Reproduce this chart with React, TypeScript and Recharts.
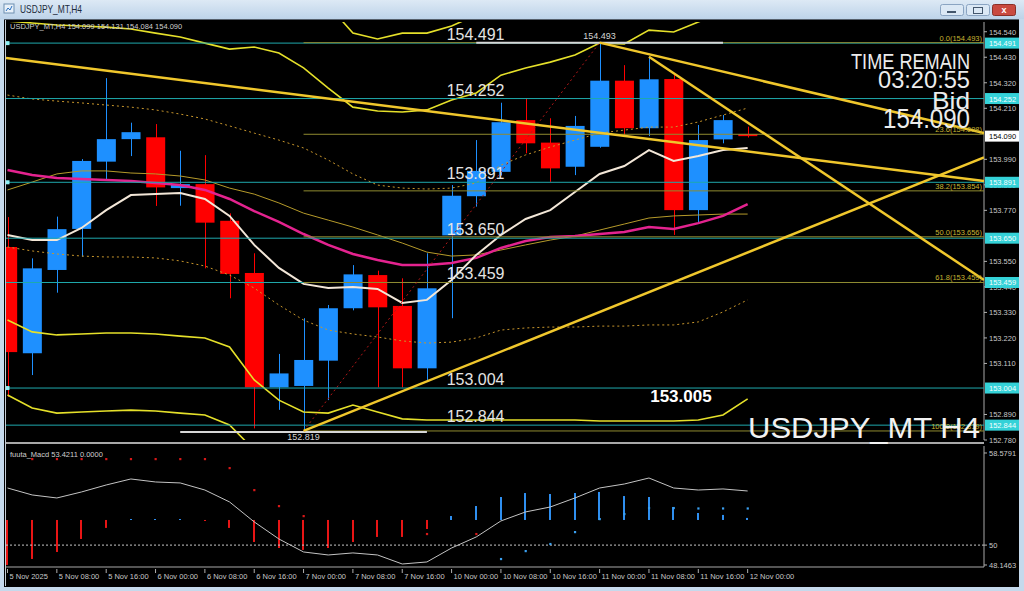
import React from 'react';
import { ComposedChart, Bar, Line, XAxis, YAxis, ReferenceLine, ReferenceDot } from 'recharts';

const FONT = '"Liberation Sans", Arial, sans-serif';

// H4 bars, 5 Nov 00:00 .. 12 Nov 00:00
const times = [
  '5 Nov 00:00', '5 Nov 04:00', '5 Nov 08:00', '5 Nov 12:00', '5 Nov 16:00', '5 Nov 20:00',
  '6 Nov 00:00', '6 Nov 04:00', '6 Nov 08:00', '6 Nov 12:00', '6 Nov 16:00', '6 Nov 20:00',
  '7 Nov 00:00', '7 Nov 04:00', '7 Nov 08:00', '7 Nov 12:00', '7 Nov 16:00', '7 Nov 20:00',
  '10 Nov 00:00', '10 Nov 04:00', '10 Nov 08:00', '10 Nov 12:00', '10 Nov 16:00', '10 Nov 20:00',
  '11 Nov 00:00', '11 Nov 04:00', '11 Nov 08:00', '11 Nov 12:00', '11 Nov 16:00', '11 Nov 20:00',
  '12 Nov 00:00',
];
const timeTickBars = [0, 2, 4, 6, 8, 10, 12, 14, 16, 18, 20, 22, 24, 26, 28, 30];
const timeTickLabels = [
  '5 Nov 2025', '5 Nov 08:00', '5 Nov 16:00', '6 Nov 00:00', '6 Nov 08:00', '6 Nov 16:00',
  '7 Nov 00:00', '7 Nov 08:00', '7 Nov 16:00', '10 Nov 00:00', '10 Nov 08:00', '10 Nov 16:00',
  '11 Nov 00:00', '11 Nov 08:00', '11 Nov 16:00', '12 Nov 00:00',
];

const open = [153.612, 153.154, 153.513, 153.69, 153.98, 154.077, 154.085, 153.866, 153.883, 153.725,
  153.5, 153.007, 153.013, 153.122, 153.348, 153.491, 153.358, 153.089, 153.662, 153.831,
  153.936, 154.159, 154.062, 153.958, 154.044, 154.329, 154.124, 154.336, 153.771, 154.076, 154.099];
const high = [153.741, 153.563, 153.743, 153.991, 154.34, 154.148, 154.142, 154.027, 154.008, 153.757,
  153.585, 153.151, 153.305, 153.362, 153.534, 153.51, 153.477, 153.585, 153.879, 154.073,
  154.234, 154.253, 154.167, 154.177, 154.493, 154.396, 154.432, 154.361, 154.138, 154.181, 154.131];
const low = [152.966, 153.06, 153.415, 153.57, 153.901, 154.004, 153.789, 153.79, 153.52, 153.391,
  152.83, 152.91, 152.819, 152.952, 153.339, 153.007, 153.007, 153.039, 153.305, 153.786,
  153.92, 154.016, 153.893, 153.922, 154.04, 154.09, 154.09, 153.664, 153.714, 154.059, 154.084];
const close = [153.159, 153.52, 153.689, 153.983, 154.077, 154.107, 153.869, 153.883, 153.717, 153.496,
  153.007, 153.067, 153.125, 153.348, 153.494, 153.352, 153.089, 153.434, 153.833, 153.94,
  154.15, 154.059, 153.951, 154.134, 154.329, 154.124, 154.335, 153.771, 154.073, 154.159, 154.09];

const maFast = [153.664, 153.642, 153.642, 153.694, 153.771, 153.836, 153.84, 153.845, 153.819, 153.746,
  153.621, 153.522, 153.453, 153.435, 153.44, 153.431, 153.371, 153.384, 153.47, 153.578,
  153.664, 153.733, 153.771, 153.849, 153.927, 153.961, 154.03, 153.983, 154.004, 154.03, 154.039];
const maSlow = [153.944, 153.922, 153.909, 153.905, 153.901, 153.897, 153.888, 153.879, 153.858, 153.819,
  153.767, 153.72, 153.668, 153.621, 153.582, 153.556, 153.534, 153.534, 153.543, 153.565,
  153.608, 153.638, 153.655, 153.659, 153.668, 153.677, 153.698, 153.69, 153.715, 153.746, 153.797];
const maMid = [153.858, 153.892, 153.927, 153.94, 153.94, 153.931, 153.927, 153.918, 153.901, 153.866,
  153.84, 153.802, 153.758, 153.728, 153.698, 153.664, 153.629, 153.59, 153.573, 153.578,
  153.599, 153.621, 153.642, 153.659, 153.685, 153.711, 153.737, 153.746, 153.75, 153.754, 153.754];
const envUpper = [154.267, 154.25, 154.241, 154.233, 154.224, 154.215, 154.203, 154.185, 154.164, 154.134,
  154.103, 154.073, 154.039, 153.987, 153.927, 153.879, 153.866, 153.862, 153.866, 153.888,
  153.965, 154.009, 154.043, 154.073, 154.103, 154.116, 154.129, 154.129, 154.151, 154.181, 154.211];
const envLower = [153.612, 153.595, 153.582, 153.573, 153.569, 153.569, 153.565, 153.552, 153.53, 153.491,
  153.435, 153.362, 153.297, 153.254, 153.237, 153.224, 153.207, 153.198, 153.202, 153.22,
  153.254, 153.263, 153.267, 153.267, 153.271, 153.271, 153.276, 153.276, 153.289, 153.332, 153.384];
const bandUpper = [154.586, 154.578, 154.569, 154.565, 154.56, 154.552, 154.534, 154.517, 154.491, 154.465,
  154.474, 154.448, 154.384, 154.297, 154.215, 154.198, 154.194, 154.203, 154.246, 154.276,
  154.353, 154.384, 154.409, 154.44, 154.491, 154.487, 154.547, 154.539, 154.582, 154.625, 154.655];
const bandUpper2 = [null, null, null, null, null, null, null, null, null, null,
  null, null, 154.677, 154.655, 154.534, 154.509, 154.534, 154.534, 154.565, 154.612,
  154.677, null, null, null, null, null, null, null, null, null, null];
const bandLower = [153.297, 153.246, 153.233, 153.237, 153.241, 153.241, 153.237, 153.228, 153.22, 153.181,
  153.039, 152.952, 152.901, 152.896, 152.931, 152.901, 152.871, 152.866, 152.866, 152.866,
  152.866, 152.866, 152.866, 152.866, 152.862, 152.862, 152.862, 152.862, 152.866, 152.888, 152.957];
const bandLower2 = [152.974, 152.918, 152.896, 152.901, 152.905, 152.909, 152.905, 152.896, 152.888, 152.845,
  152.737, 152.607, null, null, null, null, null, null, null, null,
  null, null, null, null, null, null, null, null, null, null, null];

const lineLevels = [154.491, 154.252, 153.891, 153.65, 153.459, 153.004, 152.844];
const handleLevels = [154.491, 153.891, 153.004];
const fibLevels = [
  { name: '0.0', price: 154.493 },
  { name: '23.6', price: 154.098 },
  { name: '38.2', price: 153.854 },
  { name: '50.0', price: 153.656 },
  { name: '61.8', price: 153.459 },
  { name: '100.0', price: 152.819 },
];
const trendLines = [
  { x1: -0.061, y1: 154.427, x2: 39.58, y2: 153.896 },
  { x1: 24, y1: 154.493, x2: 39.58, y2: 154.103 },
  { x1: 26, y1: 154.432, x2: 39.58, y2: 153.47 },
  { x1: 12, y1: 152.819, x2: 39.58, y2: 153.998 },
];
const fibBase = { x1: 12, y1: 152.819, x2: 24, y2: 154.493 };
const highMark = { x1: 19, x2: 29, y: 154.493 };
const lowMark = { x1: 7, x2: 17, y: 152.815 };
const bidPrice = 154.09;
// scale steps that are not hidden under a level or bid box
const priceTicks = [154.54, 154.43, 154.32, 154.21, 153.99, 153.88, 153.77, 153.55,
  153.44, 153.33, 153.22, 153.11, 152.89, 152.78];

const macdSignal = [55.32, 54.67, 54.39, 54.95, 55.6, 56.16, 55.88, 55.79, 55.13, 54.02,
  52.16, 50.57, 49.36, 49.08, 49.27, 49.08, 48.24, 48.43, 49.73, 50.76,
  52.25, 53.09, 53.55, 54.39, 55.32, 55.69, 56.25, 55.32, 55.13, 55.23, 55.04];
const macdHist = [48.15, 48.71, 49.36, 50.57, 51.6, 52.43, 52.43, 52.43, 52.25, 51.6,
  50.29, 49.73, 49.55, 49.73, 50.29, 50.76, 50.76, 51.5, 52.71, 53.64,
  54.48, 54.85, 54.76, 54.85, 54.95, 54.57, 54.48, 53.55, 52.99, 52.81, 52.53];
const HIST_BASE = 52.34;
const dotRed = [null, 58.02, 58.02, 58.02, 58.02, 58.02, 58.02, 58.02, 58.02, 57.18,
  55.13, 53.64, 52.71, null, null, null, null, 51.04, null, 51.04,
  null, null, null, null, null, null, null, null, null, null, null];
const dotBlue = [null, null, null, null, null, null, null, null, null, null,
  null, null, null, null, null, null, null, null, null, null,
  48.71, 49.45, 50.11, 51.22, 52.43, 52.9, 53.46, 53.46, 53.42, 53.42, 53.42];
const macdTicks = [58.5791, 50, 48.1463];

const rows = times.map((t, i) => ({
  i, t, o: open[i], h: high[i], l: low[i], c: close[i],
  fast: maFast[i], slow: maSlow[i], mid: maMid[i], envUp: envUpper[i], envLo: envLower[i],
  bUp: bandUpper[i], bUp2: bandUpper2[i], bLo: bandLower[i], bLo2: bandLower2[i],
}));
const subRows = times.map((t, i) => ({
  i, t, sig: macdSignal[i], hist: macdHist[i], red: dotRed[i], blue: dotBlue[i],
}));

const X_DOMAIN: [number, number] = [-0.061, 39.58];

const Candle = (p: any) => {
  const { x, y, width, height, payload } = p;
  if (x == null || y == null) return <g />;
  const top = Math.min(y, y + height);
  const hh = Math.abs(height);
  const { o, h, l, c } = payload;
  const up = c >= o;
  const col = up ? '#1e90ff' : '#ff0000';
  const k = hh / (h - l || 1);
  const bTop = top + (h - Math.max(o, c)) * k;
  const bBot = top + (h - Math.min(o, c)) * k;
  const cx = Math.round(x + width / 2) + 0.5;
  return (
    <g>
      <line x1={cx} x2={cx} y1={top} y2={top + hh} stroke={col} strokeWidth={1} />
      <rect x={x} y={bTop} width={width} height={Math.max(1, bBot - bTop)} fill={col} />
    </g>
  );
};

const HistBar = (p: any) => {
  const { x, y, width, height, payload } = p;
  if (x == null || y == null) return <g />;
  const top = Math.min(y, y + height);
  const col = payload.hist >= HIST_BASE ? '#2f8ff0' : '#e81515';
  return <rect x={Math.round(x + width / 2) - 1} y={top} width={2} height={Math.max(1, Math.abs(height))} fill={col} />;
};

const sq = (col: string) => (p: any) => {
  if (p.value == null || p.cy == null || isNaN(p.cy)) return <g key={`d-${p.index}`} />;
  return <rect key={`d-${p.index}`} x={p.cx - 1} y={p.cy - 1} width={2.2} height={2.2} fill={col} />;
};

const PriceTick = (p: any) => {
  const { x, y, payload } = p;
  const v = payload.value;
  if (lineLevels.includes(v)) {
    return (
      <g>
        <rect x={x + 1} y={y - 5.5} width={34} height={11} fill="#34d2d8" />
        <text x={x + 5} y={y + 3} fontSize={7.5} fill="#f4ffff" fontFamily={FONT}>{v.toFixed(3)}</text>
      </g>
    );
  }
  if (v === bidPrice) {
    return (
      <g>
        <rect x={x + 1} y={y - 5.5} width={34} height={11} fill="#ffffff" />
        <text x={x + 5} y={y + 3} fontSize={7.5} fill="#000" fontFamily={FONT}>{v.toFixed(3)}</text>
      </g>
    );
  }
  return (
    <g>
      <line x1={x} x2={x + 3} y1={y} y2={y} stroke="#b0b0b0" />
      <text x={x + 5} y={y + 3} fontSize={7.5} fill="#c8c8c8" fontFamily={FONT}>{v.toFixed(3)}</text>
    </g>
  );
};

const MacdTick = (p: any) => {
  const { x, y, payload } = p;
  return (
    <g>
      <line x1={x} x2={x + 3} y1={y} y2={y} stroke="#b0b0b0" />
      <text x={x + 5} y={y + 3} fontSize={7.5} fill="#c8c8c8" fontFamily={FONT}>{String(payload.value)}</text>
    </g>
  );
};

const TimeTick = (p: any) => {
  const { x, y, payload } = p;
  const idx = timeTickBars.indexOf(payload.value);
  return (
    <g>
      <line x1={x} x2={x} y1={y + 2} y2={y + 6} stroke="#b0b0b0" />
      <text x={x + 2} y={y + 12} fontSize={7.5} fill="#c8c8c8" fontFamily={FONT}>{timeTickLabels[idx]}</text>
    </g>
  );
};

const labelDot = (key: string, x: number, y: number, text: string, o: any = {}) => (
  <ReferenceDot
    key={key}
    x={x}
    y={y}
    r={0}
    ifOverflow="visible"
    zIndex={2000}
    shape={(p: any) => (
      <text
        x={p.cx + (o.dx ?? 0)}
        y={p.cy + (o.dy ?? 0)}
        fill={o.color ?? '#e4e4e4'}
        fontSize={o.size ?? 16}
        fontWeight={o.weight ?? 'normal'}
        textAnchor={o.anchor ?? 'start'}
        fontFamily={FONT}
      >
        {text}
      </text>
    )}
  />
);

export default function App() {
  return (
    <div style={{ position: 'fixed', left: 0, top: 0, width: 1024, height: 591, background: '#c5d9ec', overflow: 'hidden', fontFamily: FONT }}>
      <div style={{ position: 'absolute', left: 0, top: 0, width: 1024, height: 19, background: 'linear-gradient(#dde9f5, #bdd3e9)' }} />
      <div style={{ position: 'absolute', left: 4, top: 19, width: 1015, height: 567, background: '#000', borderTop: '1px solid #56606c' }} />
      <div style={{ position: 'absolute', left: 5, top: 20, width: 1, height: 566, background: '#c4ccd4' }} />

      <div style={{ position: 'absolute', left: 6, top: 22 }}>
        <ComposedChart width={1013} height={421} data={rows} margin={{ top: 0, right: 0, bottom: 3, left: 0 }}>
          <XAxis dataKey="i" type="number" domain={X_DOMAIN} allowDataOverflow hide />
          <YAxis
            orientation="right"
            width={35}
            domain={[152.78, 154.582]}
            allowDataOverflow
            ticks={[...priceTicks, bidPrice, ...lineLevels]}
            interval={0}
            tickSize={0}
            tickMargin={0}
            tickLine={false}
            axisLine={{ stroke: '#a8a8a8' }}
            tick={<PriceTick />}
          />
          <Bar dataKey={(d: any) => [d.l, d.h]} barSize={19} shape={<Candle />} isAnimationActive={false} />
          <Line dataKey="bUp" stroke="#e5e02a" strokeWidth={1.6} dot={false} activeDot={false} isAnimationActive={false} />
          <Line dataKey="bUp2" stroke="#e5e02a" strokeWidth={1.6} dot={false} activeDot={false} isAnimationActive={false} />
          <Line dataKey="bLo" stroke="#e5e02a" strokeWidth={1.6} dot={false} activeDot={false} isAnimationActive={false} />
          <Line dataKey="bLo2" stroke="#e5e02a" strokeWidth={1.6} dot={false} activeDot={false} isAnimationActive={false} />
          <Line dataKey="envUp" stroke="#c8962c" strokeWidth={1} strokeDasharray="2 3" dot={false} activeDot={false} isAnimationActive={false} />
          <Line dataKey="envLo" stroke="#c8962c" strokeWidth={1} strokeDasharray="2 3" dot={false} activeDot={false} isAnimationActive={false} />
          <Line dataKey="mid" stroke="#b59a2a" strokeWidth={1} dot={false} activeDot={false} isAnimationActive={false} />
          <Line dataKey="slow" stroke="#e4238f" strokeWidth={2.5} dot={false} activeDot={false} isAnimationActive={false} />
          <Line dataKey="fast" stroke="#f3e7d8" strokeWidth={2} dot={false} activeDot={false} isAnimationActive={false} />

          {lineLevels.map((v) => (
            <ReferenceLine key={`h-${v}`} y={v} stroke="#1fa9ad" strokeWidth={1} ifOverflow="hidden" zIndex={1500} />
          ))}
          {fibLevels.map((f) => (
            <ReferenceLine
              key={`f-${f.name}`}
              segment={[{ x: 12, y: f.price }, { x: X_DOMAIN[1], y: f.price }]}
              stroke="#8f8a30"
              strokeWidth={1}
              ifOverflow="hidden"
              zIndex={1510}
            />
          ))}
          <ReferenceLine
            segment={[{ x: fibBase.x1, y: fibBase.y1 }, { x: fibBase.x2, y: fibBase.y2 }]}
            stroke="#b01818"
            strokeDasharray="2 3"
            strokeWidth={1}
            ifOverflow="hidden"
            zIndex={1520}
          />
          <ReferenceLine
            segment={[{ x: highMark.x1, y: highMark.y }, { x: highMark.x2, y: highMark.y }]}
            stroke="#d6d6d6"
            strokeWidth={2}
            ifOverflow="hidden"
            zIndex={1530}
          />
          <ReferenceLine
            segment={[{ x: lowMark.x1, y: lowMark.y }, { x: lowMark.x2, y: lowMark.y }]}
            stroke="#d6d6d6"
            strokeWidth={2}
            ifOverflow="hidden"
            zIndex={1530}
          />
          {trendLines.map((t, k) => (
            <ReferenceLine
              key={`t-${k}`}
              segment={[{ x: t.x1, y: t.y1 }, { x: t.x2, y: t.y2 }]}
              stroke="#f0c72c"
              strokeWidth={2.5}
              ifOverflow="hidden"
              zIndex={1540}
            />
          ))}
          {handleLevels.map((v) => (
            <ReferenceDot
              key={`hd-${v}`}
              x={0}
              y={v}
              r={2}
              ifOverflow="visible"
              zIndex={1600}
              shape={(p: any) => <rect x={p.cx - 2} y={p.cy - 2} width={4} height={4} fill="#8ff0f4" />}
            />
          ))}
          {lineLevels.map((v) => labelDot(`lb-${v}`, 17.8, v, v.toFixed(3), { dy: -3, size: 16 }))}
          {fibLevels.map((f) =>
            labelDot(`fl-${f.name}`, 39.5, f.price, `${f.name}(${f.price.toFixed(3)})`, { dy: -2, size: 7.5, anchor: 'end', color: '#c8b432' })
          )}
          {labelDot('peak', 24, 154.493, '154.493', { dy: -4, size: 9, anchor: 'middle', color: '#d4d4d4' })}
          {labelDot('trough', 12, 152.819, '152.819', { dy: 9, size: 9, anchor: 'middle', color: '#d4d4d4' })}
          {labelDot('lvl', 26.05, 153.004, '153.005', { dy: 14, size: 17, weight: 'bold', color: '#ffffff' })}
        </ComposedChart>
      </div>

      <div style={{ position: 'absolute', left: 6, top: 442, width: 978, height: 2, background: '#a8a8a8' }} />

      <div style={{ position: 'absolute', left: 6, top: 446 }}>
        <ComposedChart width={1013} height={140} data={subRows} margin={{ top: 0, right: 0, bottom: 0, left: 0 }}>
          <XAxis
            dataKey="i"
            type="number"
            domain={X_DOMAIN}
            allowDataOverflow
            ticks={timeTickBars}
            interval={0}
            height={19}
            tickSize={0}
            tickMargin={0}
            tickLine={false}
            axisLine={{ stroke: '#a8a8a8' }}
            tick={<TimeTick />}
          />
          <YAxis
            orientation="right"
            width={35}
            domain={[47.96, 59.231]}
            allowDataOverflow
            ticks={macdTicks}
            interval={0}
            tickSize={0}
            tickMargin={0}
            tickLine={false}
            axisLine={{ stroke: '#a8a8a8' }}
            tick={<MacdTick />}
          />
          <ReferenceLine y={50} stroke="#c8c8c8" strokeDasharray="2 2" strokeWidth={1} />
          <Bar
            dataKey={(d: any) => [Math.min(HIST_BASE, d.hist), Math.max(HIST_BASE, d.hist)]}
            barSize={2}
            shape={<HistBar />}
            isAnimationActive={false}
          />
          <Line dataKey="sig" stroke="#c4c4c4" strokeWidth={1} dot={false} activeDot={false} isAnimationActive={false} />
          <Line dataKey="red" stroke="none" dot={sq('#d81818')} activeDot={false} isAnimationActive={false} />
          <Line dataKey="blue" stroke="none" dot={sq('#3aa0f0')} activeDot={false} isAnimationActive={false} />
        </ComposedChart>
      </div>

      <svg width={1024} height={591} style={{ position: 'absolute', left: 0, top: 0, pointerEvents: 'none' }}>
        <rect x={4} y={4} width={10} height={9} fill="#e8f1fa" stroke="#6f8fb0" strokeWidth={1} />
        <polyline points="6,11 8,8 10,10 12,6" fill="none" stroke="#2a70c0" strokeWidth={1} />
        <text x={20} y={13} fontSize={11} fill="#1c2b3c" fontFamily={FONT} textLength={62} lengthAdjust="spacingAndGlyphs">USDJPY_MT,H4</text>
        <rect x={940.5} y={4.5} width={23} height={11} rx={2} fill="#dbe8f5" stroke="#8aa4c2" />
        <rect x={947} y={11} width={9} height={2} fill="#43566c" />
        <rect x={966.5} y={4.5} width={23} height={11} rx={2} fill="#dbe8f5" stroke="#8aa4c2" />
        <rect x={973.5} y={7.5} width={9} height={6} fill="none" stroke="#43566c" />
        <rect x={992.5} y={4.5} width={23} height={11} rx={2} fill="#c94a40" stroke="#8a3028" />
        <text x={1004} y={13} fontSize={9} fill="#ffffff" fontWeight="bold" textAnchor="middle" fontFamily={FONT}>x</text>

        <text x={10} y={29} fontSize={7.5} fill="#cfcfcf" fontFamily={FONT}>USDJPY_MT,H4  154.099 154.131 154.084 154.090</text>
        <text x={10} y={457} fontSize={7.5} fill="#cfcfcf" fontFamily={FONT}>fuuta_Macd 53.4211   0.0000</text>

        <text x={970} y={69} fontSize={22} fill="#ececec" textAnchor="end" fontFamily={FONT} textLength={119} lengthAdjust="spacingAndGlyphs">TIME REMAIN</text>
        <text x={970} y={88} fontSize={23} fill="#ececec" textAnchor="end" fontFamily={FONT} textLength={92} lengthAdjust="spacingAndGlyphs">03:20:55</text>
        <text x={970} y={109} fontSize={24} fill="#ececec" textAnchor="end" fontFamily={FONT} textLength={38} lengthAdjust="spacingAndGlyphs">Bid</text>
        <text x={970} y={128} fontSize={27} fill="#ececec" textAnchor="end" fontFamily={FONT} textLength={87} lengthAdjust="spacingAndGlyphs">154.090</text>
        <text x={748} y={438} fontSize={30} fill="#f2f2f2" fontFamily={FONT} textLength={232} lengthAdjust="spacingAndGlyphs">USDJPY_MT H4</text>
      </svg>
    </div>
  );
}
